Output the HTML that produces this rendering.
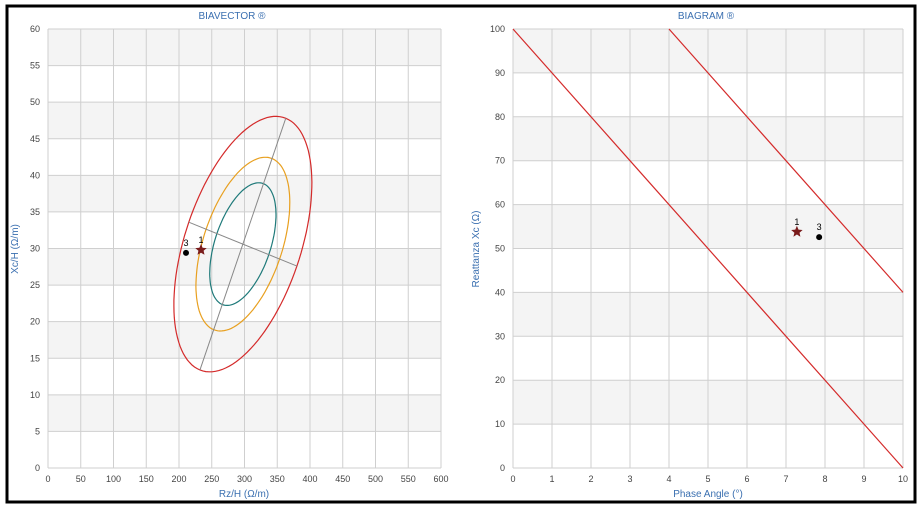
<!DOCTYPE html>
<html><head><meta charset="utf-8"><style>
body{margin:0;background:#fff;}
svg{display:block;font-family:"Liberation Sans",sans-serif;}
</style></head><body>
<svg id="s" width="922" height="508" viewBox="0 0 922 508">
<rect x="7" y="6" width="908" height="496" fill="#fff" stroke="#000" stroke-width="3"/>
<text x="232" y="19" font-size="10" fill="#3a6fb0" text-anchor="middle">BIAVECTOR ®</text>
<text x="706" y="19" font-size="10" fill="#3a6fb0" text-anchor="middle">BIAGRAM ®</text>
<text x="244" y="497" font-size="10" fill="#3a6fb0" text-anchor="middle">Rz/H (Ω/m)</text>
<text x="708" y="497" font-size="10" fill="#3a6fb0" text-anchor="middle">Phase Angle (°)</text>
<text transform="translate(18,249) rotate(-90)" font-size="10" fill="#3a6fb0" text-anchor="middle">Xc/H (Ω/m)</text>
<text transform="translate(479,249) rotate(-90)" font-size="10" fill="#3a6fb0" text-anchor="middle">Reattanza Xc (Ω)</text>
<g id="L"></g><g id="R"></g>
</svg>
<script>
// Left chart (BIAVECTOR) data
const lxTicks=[0,50,100,150,200,250,300,350,400,450,500,550,600];
const lyTicks=[0,5,10,15,20,25,30,35,40,45,50,55,60];
const ellCenter=[297.5,30.6];
const ellMajorEnd=[363,47.8];
const ellMinorEnd=[380,27.6];
const ellScales=[1,0.68,0.48];
const ellColors=['#d42a2a','#e8a020','#1f7a7a'];
const lPoints=[{label:'1',x:233.6,y:29.8,shape:'star'},{label:'3',x:210.7,y:29.4,shape:'dot'}];
// Right chart (BIAGRAM) data
const rxTicks=[0,1,2,3,4,5,6,7,8,9,10];
const ryTicks=[0,10,20,30,40,50,60,70,80,90,100];
const rLines=[[[0,100],[10,0]],[[4,100],[10,40]]];
const rPoints=[{label:'1',x:7.28,y:53.8,shape:'star'},{label:'3',x:7.85,y:52.6,shape:'dot'}];

const NS='http://www.w3.org/2000/svg';
function mk(p,t,a){const e=document.createElementNS(NS,t);for(const k in a)e.setAttribute(k,a[k]);p.appendChild(e);return e;}
function starPath(cx,cy,r){let d='';for(let i=0;i<10;i++){const rr=i%2?r*0.45:r;const a=-Math.PI/2+i*Math.PI/5;d+=(i?'L':'M')+(cx+rr*Math.cos(a)).toFixed(1)+' '+(cy+rr*Math.sin(a)).toFixed(1);}return d+'Z';}

function chart(g,x0,x1,y0,y1,xmin,xmax,ymin,ymax,xt,yt,shadeTop){
  const sx=v=>x0+(v-xmin)/(xmax-xmin)*(x1-x0);
  const sy=v=>y0-(v-ymin)/(ymax-ymin)*(y0-y1);
  for(let i=0;i<yt.length-1;i++){
    const shaded=((yt.length-2-i)%2===0);
    if(shaded){const r=mk(g,'rect',{x:x0,y:sy(yt[i+1]),width:x1-x0,height:sy(yt[i])-sy(yt[i+1]),fill:'#f4f4f4'});
      }
  }
  xt.forEach(v=>{const l=mk(g,'line',{x1:sx(v),x2:sx(v),y1:y1,y2:y0,stroke:'#cfcfcf','stroke-width':1});
    
    const t=mk(g,'text',{x:sx(v),y:y0+14,'font-size':9,fill:'#444','text-anchor':'middle'});t.textContent=v;
    });
  yt.forEach(v=>{const l=mk(g,'line',{x1:x0,x2:x1,y1:sy(v),y2:sy(v),stroke:'#cfcfcf','stroke-width':1});
    
    const t=mk(g,'text',{x:x0-8,y:sy(v)+3,'font-size':9,fill:'#444','text-anchor':'end'});t.textContent=v;
    });
  return [sx,sy];
}
function points(g,pts,sx,sy){
  pts.forEach(p=>{
    const X=sx(p.x),Y=sy(p.y);
    let m;
    if(p.shape==='star'){m=mk(g,'path',{d:starPath(X,Y,6),fill:'#7a1c1c'});}
    else{m=mk(g,'circle',{cx:X,cy:Y,r:3,fill:'#000'});}
    
    
    const t=mk(g,'text',{x:X,y:Y-7,'font-size':9,fill:'#000','text-anchor':'middle'});t.textContent=p.label;
    
    
  });
}
// Left
(function(){
  const g=document.getElementById('L');
  const [sx,sy]=chart(g,48,441,468,29,0,600,0,60,lxTicks,lyTicks);
  const cx=sx(ellCenter[0]),cy=sy(ellCenter[1]);
  const ux=sx(ellMajorEnd[0])-cx,uy=sy(ellMajorEnd[1])-cy;
  const vx=sx(ellMinorEnd[0])-cx,vy=sy(ellMinorEnd[1])-cy;
  ellScales.forEach((s,i)=>{
    let d='';for(let k=0;k<=120;k++){const t=k/120*2*Math.PI;
      d+=(k?'L':'M')+(cx+s*(ux*Math.cos(t)+vx*Math.sin(t))).toFixed(1)+' '+(cy+s*(uy*Math.cos(t)+vy*Math.sin(t))).toFixed(1);}
    const e=mk(g,'path',{d:d+'Z',fill:'none',stroke:ellColors[i],'stroke-width':1.2});
    
    
  });
  const a1=mk(g,'line',{x1:cx-ux,y1:cy-uy,x2:cx+ux,y2:cy+uy,stroke:'#888','stroke-width':1});
  
  
  const a2=mk(g,'line',{x1:cx-vx,y1:cy-vy,x2:cx+vx,y2:cy+vy,stroke:'#888','stroke-width':1});
  
  
  points(g,lPoints,sx,sy);
})();
// Right
(function(){
  const g=document.getElementById('R');
  const [sx,sy]=chart(g,513,903,468,29,0,10,0,100,rxTicks,ryTicks);
  rLines.forEach((ln,i)=>{
    const l=mk(g,'line',{x1:sx(ln[0][0]),y1:sy(ln[0][1]),x2:sx(ln[1][0]),y2:sy(ln[1][1]),stroke:'#d42a2a','stroke-width':1.2});
    
    
  });
  points(g,rPoints,sx,sy);
})();
</script>
</body></html>
